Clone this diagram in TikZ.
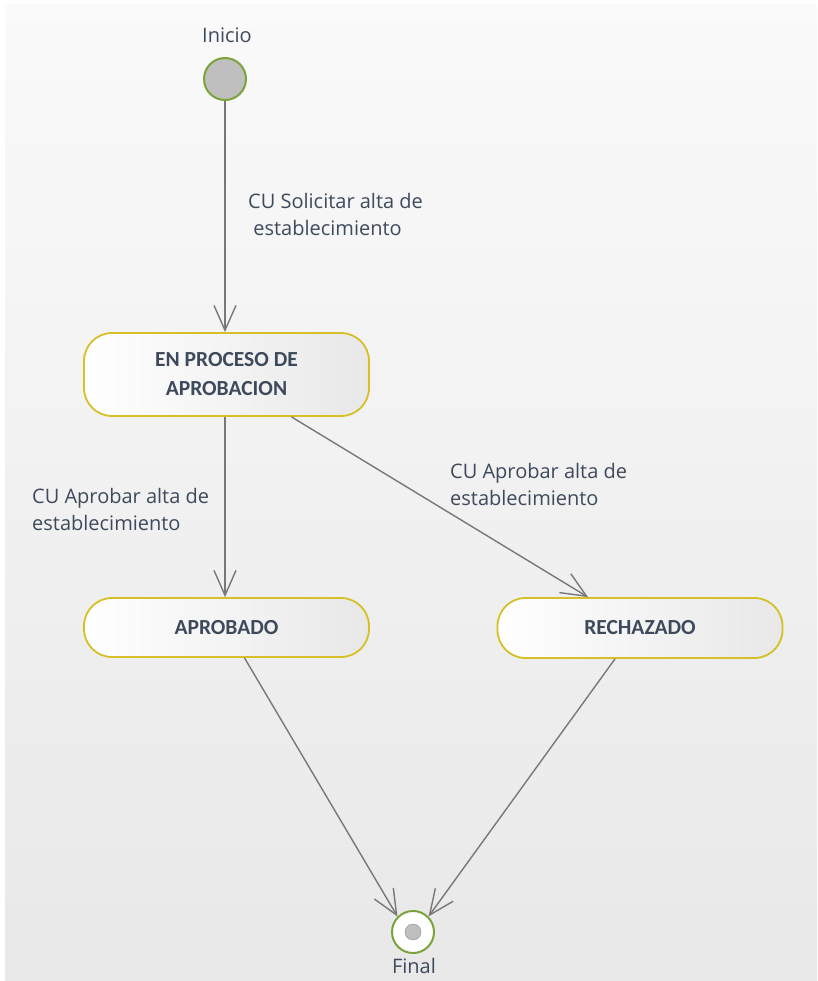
\documentclass[tikz,border=0pt]{standalone}
\usepackage{fontspec}
\setmainfont{Open Sans}
\newfontfamily\statefont{Carlito}
\usetikzlibrary{arrows.meta, positioning, calc}
\definecolor{stategreen}{RGB}{122, 163, 58}
\definecolor{stateyellow}{RGB}{214, 192, 38}
\definecolor{textslate}{RGB}{62, 74, 92}
\definecolor{linegray}{RGB}{120, 120, 120}

\begin{document}
\begin{tikzpicture}[
  x=1pt, y=-1pt,
  state/.style={draw=stateyellow, line width=1.8pt, rounded corners=28pt, left color=white, right color=black!9, minimum width=285pt, font=\statefont\bfseries\fontsize{21.5}{29}\selectfont, text=textslate, align=center},
  trans/.style={draw=linegray, line width=1.4pt, -{Straight Barb[length=25pt, width=22pt]}},
  lbl/.style={font=\fontsize{20}{27}\selectfont, text=textslate, align=left, anchor=west, inner sep=0pt},
  pseudo/.style={circle, draw=stategreen, line width=2pt, minimum size=42pt, inner sep=0pt}
]
  % background panel
  \useasboundingbox (0,0) rectangle (817,981);
  \fill[white] (0,0) rectangle (817,981);
  \shade[top color=black!2, bottom color=black!9] (5,5) rectangle (817,981);

  % pseudo states
  \node[lbl, anchor=center] (inicioLbl) at (227,35) {Inicio};
  \node[pseudo, fill=black!25] (inicio) at (225,79) {};
  \node[pseudo, fill=white] (final) at (413,932) {};
  \node[circle, draw=black!45, fill=black!25, minimum size=16pt, inner sep=0pt] (finalDot) at (final) {};
  \node[lbl, anchor=center] (finalLbl) at (414,966) {Final};

  % states
  \node[state, minimum height=83pt] (proceso) at (226.5,374.5) {EN PROCESO DE\\APROBACION};
  \node[state, minimum height=59pt] (aprobado) at (226.5,627.5) {APROBADO};
  \node[state, minimum height=60pt] (rechazado) at (640,628) {RECHAZADO};

  % transitions
  \draw[trans] (inicio) -- (proceso.north -| inicio);
  \draw[trans] (proceso.south -| inicio) -- (aprobado.north -| inicio);
  \draw[trans] ($(proceso.south)+(65,0)$) -- ($(rechazado.north)+(-52,0)$);
  \draw[trans] ($(aprobado.south)+(18,0)$) -- (final.north west);
  \draw[trans] ($(rechazado.south)+(-25,0)$) -- (final.north east);

  % transition labels
  \node[lbl] (solicitarLbl) at (248,215) {CU Solicitar alta de\\ \ establecimiento};
  \node[lbl] (aprobarLbl) at (32,509) {CU Aprobar alta de\\establecimiento};
  \node[lbl] (rechazarLbl) at (450,484) {CU Aprobar alta de\\establecimiento};
\end{tikzpicture}
\end{document}
